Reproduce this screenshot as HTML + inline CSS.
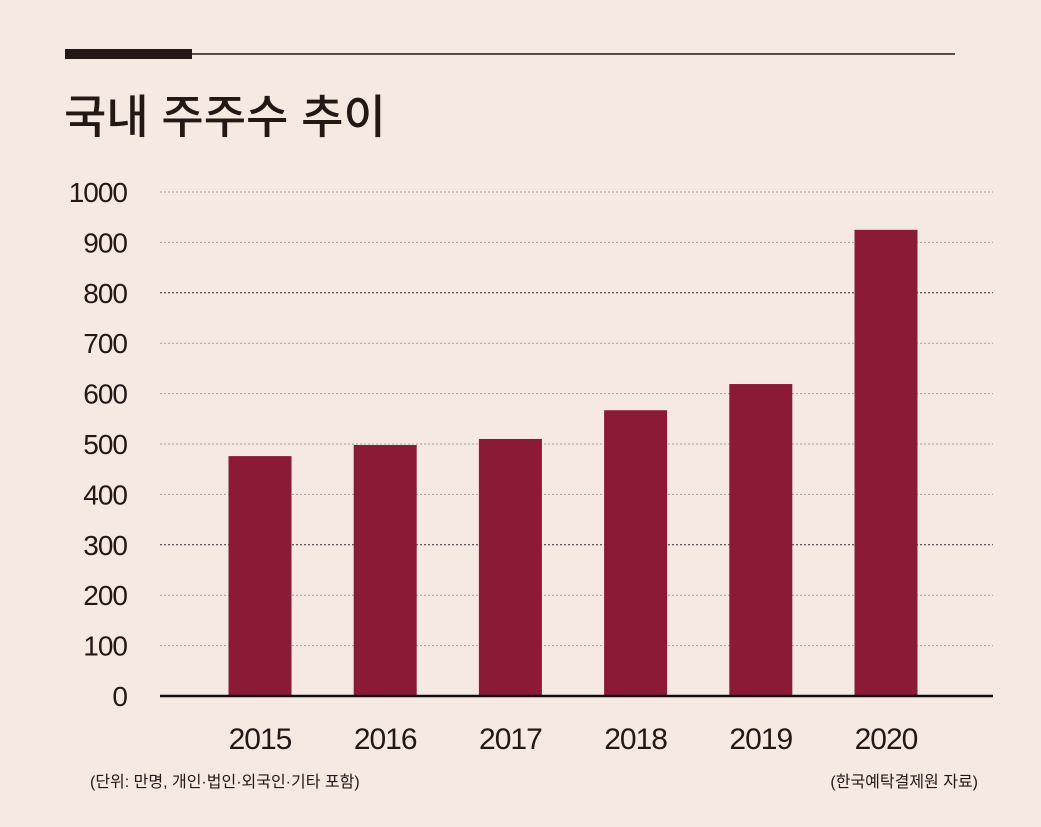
<!DOCTYPE html>
<html><head><meta charset="utf-8"><style>
body{margin:0;background:#f5e9e2;}
svg{display:block;}
</style></head><body>
<svg width="1041" height="827" xmlns="http://www.w3.org/2000/svg">
<rect width="1041" height="827" fill="#f5e9e2"/>
<rect x="65" y="49" width="127" height="10" fill="#231815"/>
<line x1="192" y1="54" x2="955" y2="54" stroke="#231815" stroke-width="1.5"/>
<text x="64" y="133" font-family="'Liberation Sans','Noto Sans CJK KR',sans-serif" font-size="46" font-weight="500" fill="#231815">국내 주주수 추이</text>
<g id="grid"></g><g id="bars"></g><g id="ylabels"></g><g id="xlabels"></g>
<line x1="160" y1="696" x2="993" y2="696" stroke="#111" stroke-width="2.5"/>
<text x="90" y="787" font-family="'Liberation Sans','Noto Sans CJK KR',sans-serif" font-size="16" fill="#231815">(단위: 만명, 개인·법인·외국인·기타 포함)</text>
<text x="978" y="787" text-anchor="end" font-family="'Liberation Sans','Noto Sans CJK KR',sans-serif" font-size="16" fill="#231815">(한국예탁결제원 자료)</text>
</svg>
<script>
const categories=['2015','2016','2017','2018','2019','2020'];
const values=[476,498,510,567,619,925];
const yTicks=[0,100,200,300,400,500,600,700,800,900,1000];
const NS='http://www.w3.org/2000/svg';
const y0=696,y1=192,vmax=1000;
function yScale(v){return y0-(v/vmax)*(y0-y1);}
function xScale(i){return 260+i*125.2;}
const bw=63;
function mk(t,a,p){const e=document.createElementNS(NS,t);for(const k in a)e.setAttribute(k,a[k]);p.appendChild(e);return e;}
const grid=document.getElementById('grid'),yl=document.getElementById('ylabels'),bars=document.getElementById('bars'),xl=document.getElementById('xlabels');
yTicks.forEach(v=>{
  const y=yScale(v);
  if(v>0){const g=mk('line',{x1:160,x2:993,y1:y,y2:y,stroke:(v==800||v==300)?'#333':'#a89a94','stroke-width':1,'stroke-dasharray':'2,2'},grid);
  
  }
  const t=mk('text',{x:127,y:y+10,'text-anchor':'end','font-family':'Liberation Sans,sans-serif','font-size':28,fill:'#231815','letter-spacing':'-1'},yl);
  t.textContent=v;
  
  
});
categories.forEach((c,i)=>{
  const x=xScale(i),y=yScale(values[i]);
  const r=mk('rect',{x:x-bw/2,y:y,width:bw,height:y0-y,fill:'#8b1a36'},bars);
  
  
  const t=mk('text',{x:x,y:749,'text-anchor':'middle','font-family':'Liberation Sans,sans-serif','font-size':30,fill:'#231815','letter-spacing':'-1'},xl);
  t.textContent=c;
  
  
});
</script>
</body></html>
